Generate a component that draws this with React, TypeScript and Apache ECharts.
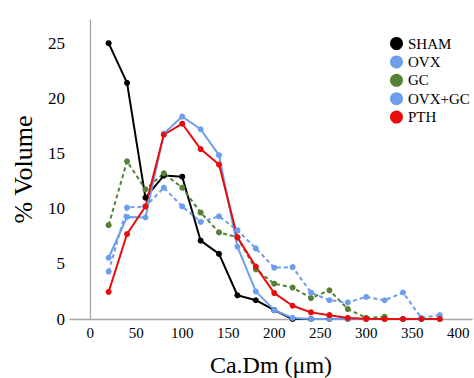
import React, { useEffect, useRef } from "react";
import * as echarts from "echarts";

const xValues = [20, 40, 60, 80, 100, 120, 140, 160, 180, 200, 220, 240, 260, 280, 300, 320, 340, 360, 380];
const sham = [25.0, 21.4, 11.0, 13.0, 12.9, 7.1, 5.9, 2.15, 1.7, 0.8, 0, 0, 0, 0, 0, 0, 0, 0, 0];
const ovx = [5.55, 9.25, 9.2, 16.8, 18.35, 17.2, 14.85, 6.55, 2.5, 0.8, 0.1, 0, 0, 0, 0, 0, 0, 0, 0];
const gc = [8.5, 14.3, 11.75, 13.2, 11.9, 9.65, 7.85, 7.4, 4.5, 3.2, 2.85, 1.9, 2.6, 0.9, 0.1, 0.2, null, null, null];
const ovxgc = [4.3, 10.1, 10.2, 11.9, 10.2, 8.8, 9.3, 8.05, 6.4, 4.65, 4.7, 2.4, 1.7, 1.5, 2.0, 1.7, 2.4, 0.1, 0.35];
const pth = [2.45, 7.7, 10.2, 16.7, 17.7, 15.4, 14.0, 7.4, 4.75, 2.35, 1.2, 0.6, 0.35, 0.1, 0.02, 0, 0, 0, 0];
const xTicks = [0, 50, 100, 150, 200, 250, 300, 350, 400];
const yTicks = [0, 5, 10, 15, 20, 25];
const seriesNames = ["SHAM", "OVX", "GC", "OVX+GC", "PTH"];

const FONT = "Liberation Serif, Times New Roman, serif";

function pairs(ys: (number | null)[]) {
  return xValues
    .map((x, i) => [x, ys[i]])
    .filter((p) => p[1] !== null && p[1] !== undefined);
}

export default function App() {
  const ref = useRef<HTMLDivElement>(null);
  useEffect(() => {
    document.body.style.margin = "0";
    if (!ref.current) return;
    const chart = echarts.init(ref.current, null, { renderer: "svg" });
    const blue = "#6d9ded";
    const green = "#538135";
    const red = "#e80c0c";
    const mk = (name: string, data: (number | null)[], color: string, dashed: boolean) => ({
      name,
      type: "line",
      data: pairs(data),
      symbol: "circle",
      symbolSize: 6,
      itemStyle: { color },
      lineStyle: { color, width: 2, type: dashed ? [4, 3] : "solid" },
      z: 2,
    });
    chart.setOption({
      animation: false,
      textStyle: { fontFamily: FONT },
      grid: { left: 70, right: 2, top: 20, bottom: 59, containLabel: false, outerBoundsMode: "none" },
      legend: {
        data: seriesNames.map((n) => ({ name: n, icon: "circle" })),
        orient: "vertical",
        left: 385,
        top: 31,
        itemWidth: 13,
        itemHeight: 13,
        itemGap: 3.4,
        textStyle: { fontFamily: FONT, fontSize: 15, color: "#000" },
      },
      xAxis: {
        type: "value",
        min: -22,
        max: 415,
        name: "Ca.Dm (\u03bcm)",
        nameLocation: "middle",
        nameGap: 34,
        nameTextStyle: { fontFamily: FONT, fontSize: 24, color: "#000" },
        axisLine: { show: true, lineStyle: { color: "#a6a6a6", width: 1.3 } },
        axisTick: { show: false },
        splitLine: { show: false },
        axisLabel: {
          customValues: xTicks,
          fontFamily: FONT,
          fontSize: 15,
          color: "#000",
          margin: 6,
        },
      },
      yAxis: {
        type: "value",
        min: 0,
        max: 27.1,
        name: "% Volume",
        nameLocation: "middle",
        nameRotate: 90,
        nameGap: 34,
        nameTextStyle: { fontFamily: FONT, fontSize: 26, color: "#000" },
        axisLine: { show: true, lineStyle: { color: "#a6a6a6", width: 1.3 } },
        axisTick: { show: false },
        splitLine: { show: false },
        axisLabel: {
          customValues: yTicks,
          fontFamily: FONT,
          fontSize: 17,
          color: "#000",
          margin: 5,
        },
      },
      series: [
        mk("SHAM", sham, "#000000", false),
        mk("OVX", ovx, blue, false),
        mk("GC", gc, green, true),
        mk("OVX+GC", ovxgc, blue, true),
        mk("PTH", pth, red, false),
      ],
    });
    return () => chart.dispose();
  }, []);
  return <div ref={ref} style={{ width: 474, height: 378 }} />;
}
